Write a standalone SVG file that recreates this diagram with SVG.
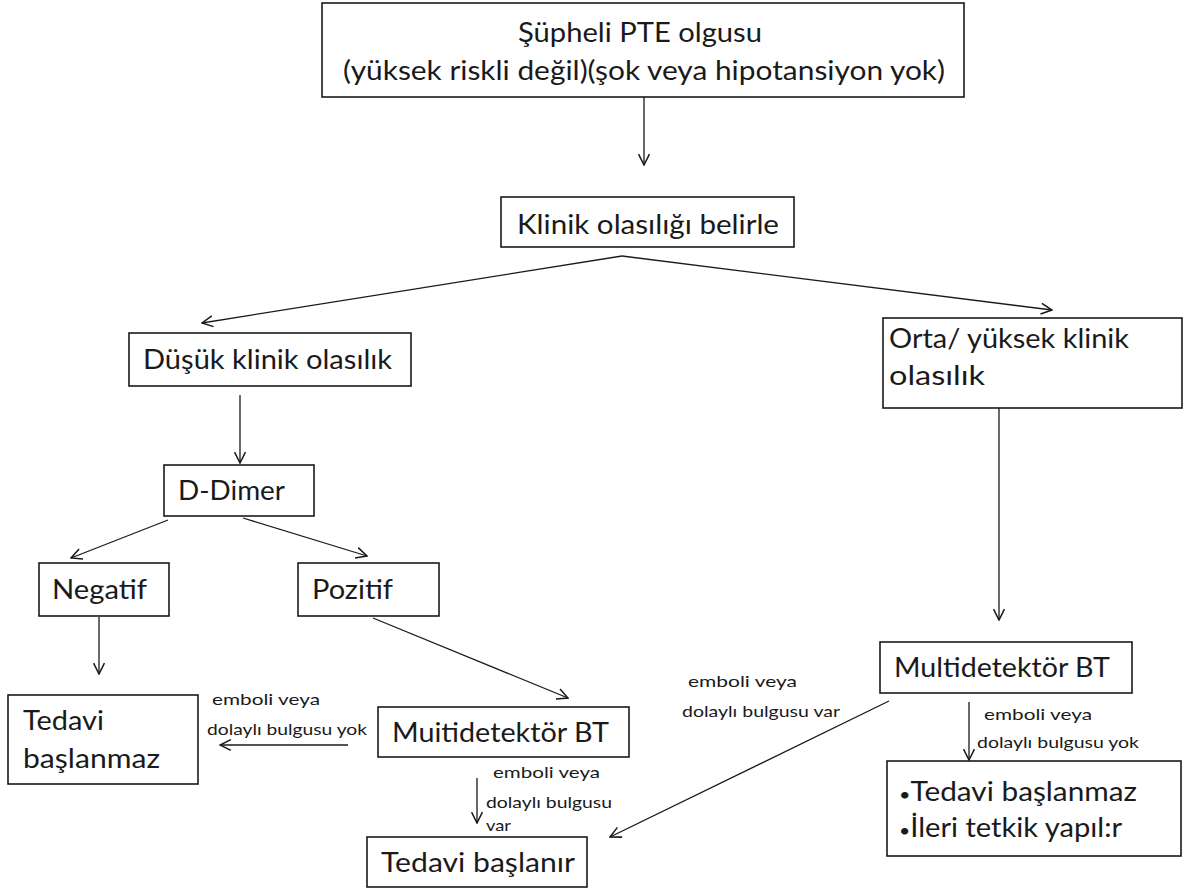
<svg xmlns="http://www.w3.org/2000/svg" width="1189" height="892" viewBox="0 0 1189 892">
<style>
.box{fill:#fff;stroke:#1a1a1a;stroke-width:1.6}
.t{font-family:Lato,"Open Sans","Liberation Sans",sans-serif;font-size:27px;fill:#1a1a1a}
.s{font-family:Lato,"Open Sans","Liberation Sans",sans-serif;font-size:15px;fill:#1a1a1a}
.b{font-size:18px}
.c{fill:none;stroke:#1a1a1a;stroke-width:1.3;marker-end:url(#ah)}
</style>
<defs>
<marker id="ah" viewBox="0 0 12 12" refX="11" refY="6" markerWidth="13" markerHeight="13" markerUnits="userSpaceOnUse" orient="auto">
<path d="M1,1 L11,6 L1,11" fill="none" stroke="#1a1a1a" stroke-width="1.4"/>
</marker>
</defs>
<rect width="1189" height="892" fill="#fff"/>
<g id="connectors">
<line class="c" x1="644" y1="97" x2="644" y2="165"/>
<line class="c" x1="622" y1="256" x2="202" y2="323"/>
<line class="c" x1="622" y1="256" x2="1052" y2="310"/>
<line class="c" x1="240" y1="395" x2="240" y2="463"/>
<line class="c" x1="168" y1="520" x2="71" y2="558"/>
<line class="c" x1="243" y1="518" x2="367" y2="556"/>
<line class="c" x1="99" y1="617" x2="99" y2="674"/>
<line class="c" x1="373" y1="618" x2="568" y2="698"/>
<line class="c" x1="348" y1="745" x2="220" y2="745"/>
<line class="c" x1="477" y1="778" x2="477" y2="823"/>
<line class="c" x1="999" y1="388" x2="999" y2="620"/>
<line class="c" x1="889" y1="701" x2="610" y2="837"/>
<line class="c" x1="969" y1="702" x2="969" y2="760"/>
</g>
<g id="n-top">
<rect class="box" x="322" y="3" width="642" height="94"/>
<text class="t" x="518" y="42" textLength="244" lengthAdjust="spacingAndGlyphs">Şüpheli PTE olgusu</text>
<text class="t" x="343" y="80" textLength="602" lengthAdjust="spacingAndGlyphs">(yüksek riskli değil)(şok veya hipotansiyon yok)</text>
</g>
<g id="n-klinik">
<rect class="box" x="501" y="197" width="293" height="50"/>
<text class="t" x="517" y="234" textLength="262" lengthAdjust="spacingAndGlyphs">Klinik olasılığı belirle</text>
</g>
<g id="n-dusuk">
<rect class="box" x="129" y="333" width="282" height="53"/>
<text class="t" x="143" y="369" textLength="249" lengthAdjust="spacingAndGlyphs">Düşük klinik olasılık</text>
</g>
<g id="n-orta">
<rect class="box" x="883" y="318" width="299" height="90"/>
<text class="t" x="889" y="348" textLength="240" lengthAdjust="spacingAndGlyphs">Orta/ yüksek klinik</text>
<text class="t" x="889" y="385" textLength="96" lengthAdjust="spacingAndGlyphs">olasılık</text>
</g>
<g id="n-ddimer">
<rect class="box" x="164" y="465" width="150" height="51"/>
<text class="t" x="178" y="500" textLength="107" lengthAdjust="spacingAndGlyphs">D-Dimer</text>
</g>
<g id="n-negatif">
<rect class="box" x="39" y="563" width="130" height="53"/>
<text class="t" x="52" y="599" textLength="95" lengthAdjust="spacingAndGlyphs">Negatif</text>
</g>
<g id="n-pozitif">
<rect class="box" x="298" y="563" width="141" height="53"/>
<text class="t" x="312" y="599" textLength="81" lengthAdjust="spacingAndGlyphs">Pozitif</text>
</g>
<g id="n-tedavi-baslanmaz">
<rect class="box" x="8" y="695" width="190" height="89"/>
<text class="t" x="23" y="730" textLength="81" lengthAdjust="spacingAndGlyphs">Tedavi</text>
<text class="t" x="23" y="768" textLength="137" lengthAdjust="spacingAndGlyphs">başlanmaz</text>
</g>
<g id="n-mbt-left">
<rect class="box" x="378" y="707" width="251" height="50"/>
<text class="t" x="392" y="742" textLength="217" lengthAdjust="spacingAndGlyphs">Muitidetektör BT</text>
</g>
<g id="n-tedavi-baslanir">
<rect class="box" x="367" y="837" width="220" height="50"/>
<text class="t" x="381" y="872" textLength="194" lengthAdjust="spacingAndGlyphs">Tedavi başlanır</text>
</g>
<g id="n-mbt-right">
<rect class="box" x="880" y="642" width="252" height="51"/>
<text class="t" x="894" y="677" textLength="216" lengthAdjust="spacingAndGlyphs">Multidetektör BT</text>
</g>
<g id="n-right-result">
<rect class="box" x="887" y="761" width="294" height="95"/>
<text class="t" x="899" y="801" textLength="238" lengthAdjust="spacingAndGlyphs"><tspan class="b">•</tspan>Tedavi başlanmaz</text>
<text class="t" x="899" y="837" textLength="223" lengthAdjust="spacingAndGlyphs"><tspan class="b">•</tspan>İleri tetkik yapıl:r</text>
</g>
<g id="labels">
<text class="s" x="212" y="705" textLength="108" lengthAdjust="spacingAndGlyphs">emboli  veya</text>
<text class="s" x="207" y="735" textLength="160" lengthAdjust="spacingAndGlyphs">dolaylı bulgusu yok</text>
<text class="s" x="493" y="778" textLength="107" lengthAdjust="spacingAndGlyphs">emboli  veya</text>
<text class="s" x="486" y="808" textLength="126" lengthAdjust="spacingAndGlyphs">dolaylı bulgusu</text>
<text class="s" x="486" y="831" textLength="25" lengthAdjust="spacingAndGlyphs">var</text>
<text class="s" x="688" y="687" textLength="109" lengthAdjust="spacingAndGlyphs">emboli  veya</text>
<text class="s" x="682" y="717" textLength="158" lengthAdjust="spacingAndGlyphs">dolaylı bulgusu var</text>
<text class="s" x="984" y="720" textLength="108" lengthAdjust="spacingAndGlyphs">emboli  veya</text>
<text class="s" x="977" y="748" textLength="162" lengthAdjust="spacingAndGlyphs">dolaylı bulgusu yok</text>
</g>
</svg>
